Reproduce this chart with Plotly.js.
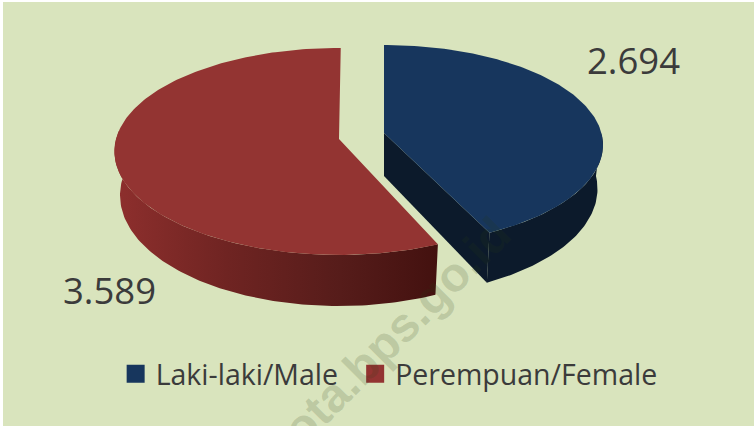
<!DOCTYPE html>
<html><head><meta charset="utf-8">
<script src="https://cdn.plot.ly/plotly-3.0.1.min.js"></script>
<style>html,body{margin:0;padding:0;background:#fff}#c{width:754px;height:426px}</style>
</head><body><div id="c"></div>
<script>
const categories = ["Laki-laki/Male\u00A0\u2009", "Perempuan/Female"];
const values = [2694, 3589];
const valueLabels = ["2.694", "3.589"];
const topColors = ["#17365d", "#933432"];
const sideColor = "#0c1a2b";
const sideGradient = [[0, "#8e2f2d"], [0.35, "#6f2422"], [0.7, "#561c1a"], [1, "#43110f"]];

// Oblique projection of a unit disc, so the slice angles come from the values.
const persp = 0.12;
const total = values.reduce((a, b) => a + b, 0);
const cut = values[0] / total * 360;
function project(g, deg, bottom) {
  const t = deg * Math.PI / 180, s = Math.sin(t), v = -Math.cos(t), w = 1 - persp * v;
  let dx = g.rx * s / w, dy = g.ry * v / w;
  if (bottom) { dx *= 0.975; dy *= 1.07; return [g.x + dx, g.y + 43 + dy]; }
  return [g.x + dx, g.y + dy];
}
function arc(g, a, b, bottom) {
  const pts = [], n = Math.ceil(Math.abs(b - a));
  for (let i = 0; i <= n; i++) pts.push(project(g, a + (b - a) * i / n, bottom));
  return pts;
}
function poly(pts, extra) {
  return Object.assign({
    type: "scatter", mode: "lines", x: pts.map(p => p[0]), y: pts.map(p => p[1]),
    fill: "toself", line: {width: 0}, showlegend: false, hoverinfo: "skip"
  }, extra);
}
const male = {x: 384, y: 133, rx: 217.4, ry: 98.6};
const female = {x: 339, y: 139, rx: 223, ry: 102};
const fStart = cut + 2.4, fEnd = 360.5;

const traces = [
  poly(arc(female, fStart, 275, false).concat(arc(female, 275, fStart, true)),
       {fillcolor: "#6f2422", fillgradient: {type: "horizontal", colorscale: sideGradient}}),
  poly([[female.x, female.y]].concat(arc(female, fStart, fEnd, false)), {fillcolor: topColors[1]}),
  poly(arc(male, 90, cut, false).concat(arc(male, cut, 90, true)), {fillcolor: sideColor}),
  poly([[male.x, male.y], project(male, cut, false), project(male, cut, true), [male.x, male.y + 43]], {fillcolor: sideColor}),
  poly([[male.x, male.y]].concat(arc(male, 0, cut, false)), {fillcolor: topColors[0]}),
  ...categories.map((c, i) => ({
    type: "scatter", mode: "markers", name: c, x: [null], y: [null],
    marker: {symbol: "square", size: 16, color: topColors[i], line: {width: 2, color: topColors[i]}},
    hoverinfo: "skip"
  }))
];

const layout = {
  width: 754, height: 426,
  margin: {l: 3, r: 0, t: 2, b: 0},
  paper_bgcolor: "#ffffff", plot_bgcolor: "#d9e4bd",
  xaxis: {range: [3, 754], visible: false, fixedrange: true},
  yaxis: {range: [426, 2], visible: false, fixedrange: true},
  showlegend: true,
  legend: {orientation: "h", x: 0.15, y: 0.182, xanchor: "left", yanchor: "top",
           bgcolor: "rgba(0,0,0,0)", itemwidth: 30,
           itemclick: false, itemdoubleclick: false,
           font: {family: "Open Sans", size: 28.5, color: "#3b3b3b"}},
  annotations: [
    {x: 633, y: 60, xref: "x", yref: "y", text: valueLabels[0], showarrow: false,
     font: {family: "Open Sans", size: 36.5, color: "#3b3b3b"}},
    {x: 109, y: 290, xref: "x", yref: "y", text: valueLabels[1], showarrow: false,
     font: {family: "Open Sans", size: 36.5, color: "#3b3b3b"}},
    {x: 396, y: 331, xref: "x", yref: "y", text: "<b>ota.bps.go.id</b>", textangle: -45, showarrow: false,
     font: {family: "Liberation Sans", size: 48, color: "rgba(40,60,20,0.17)"}}
  ]
};
Plotly.newPlot("c", traces, layout, {displayModeBar: false, staticPlot: true});
</script></body></html>
